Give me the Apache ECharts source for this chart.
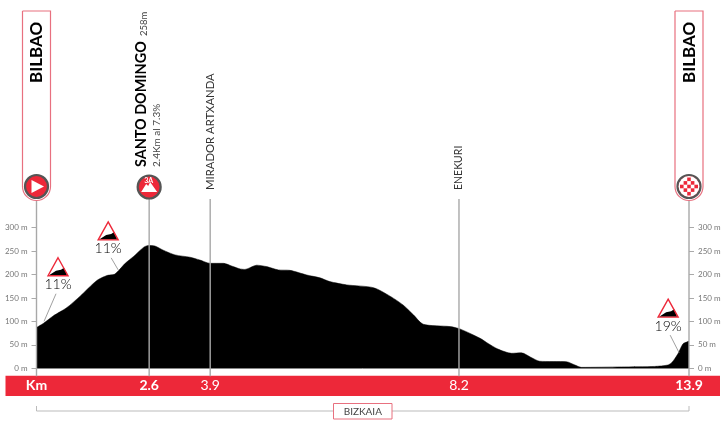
<!DOCTYPE html>
<html>
<head>
<meta charset="utf-8">
<title>Bilbao - Bilbao</title>
<script src="https://cdn.jsdelivr.net/npm/echarts@6/dist/echarts.min.js"></script>
<style>
  html, body { margin: 0; padding: 0; background: #fff; }
  #chart { width: 728px; height: 429px; }
</style>
</head>
<body>
<div id="chart"></div>
<script>
// profile
var distKm = [0, 0.15, 0.36, 0.64, 0.93, 1.28, 1.5, 1.67, 1.89, 2.06, 2.28, 2.38, 2.52, 2.7, 2.95, 3.27, 3.48, 3.7, 3.98, 4.19, 4.34,
  4.44, 4.69, 4.9, 5.15, 5.4, 5.76, 6.04, 6.25, 6.61, 7.18, 7.53, 7.81, 8.03, 8.24, 8.81, 9.02, 9.45,
  9.62, 9.83, 10.12, 10.33, 10.54, 10.72, 11.29, 11.47, 11.61, 12.46, 13.17, 13.45, 13.53, 13.6, 13.67, 13.77, 13.85, 13.9];
var elevation = [87, 96, 112, 129, 154, 187, 198, 201, 224, 238, 258, 262, 261, 252, 242, 237, 231, 224, 224, 217, 212,
  211, 220, 217, 210, 209, 199, 193, 185, 178, 172, 154, 135, 114, 94, 89, 84, 64,
  53, 41, 32, 33, 23, 15, 14, 7, 2, 3, 4, 7, 12, 21, 32, 52, 56, 58];

// points of interest: where they sit on the drawing and the km printed under them
var passPos = [0, 2.4, 3.7, 9.0, 13.9];
var passKmLabels = ['Km', '2.6', '3.9', '8.2', '13.9'];
var passNames = ['BILBAO', 'SANTO DOMINGO', 'MIRADOR ARTXANDA', 'ENEKURI', 'BILBAO'];

// gradient signs
var signKm = [0.16, 1.74, 13.69];
var signElev = [100, 210, 33];
var signText = ['11%', '11%', '19%'];
var signDx = [14, -10, -11];
var signDy = [-36.7, -21, -26.7];

var RED = '#ed2839';
var PINK = '#e8707f';
var GREY = '#a8a8a8';
var FONT = 'Lato';

function vtext(x, y, text, size, weight, color) {
  return { type: 'text', x: x, y: y, rotation: Math.PI / 2,
    style: { text: text, fontFamily: FONT, fontSize: size, fontWeight: weight, fill: color, align: 'left', verticalAlign: 'middle' } };
}

function ringCircle(x, y) {
  return { type: 'circle', shape: { cx: x, cy: y, r: 11.5 }, style: { fill: RED, stroke: '#555', lineWidth: 2.2 } };
}

function renderPass(params, api) {
  var i = params.dataIndex;
  var x = api.coord([api.value(0), 0])[0];
  var base = api.coord([api.value(0), 0])[1];
  var kids = [];
  var endY = base + 8;
  kids.push({ type: 'line', shape: { x1: x, y1: 199, x2: x, y2: endY }, style: { stroke: GREY, lineWidth: 1.4 } });

  if (i === 0 || i === 4) {
    kids.push({ type: 'rect', shape: { x: x - 14, y: 11, width: 28, height: 189.5, r: [0, 0, 14, 14] },
      style: { fill: '#fff', stroke: PINK, lineWidth: 1.2 } });
    kids.push(vtext(x + 0.5, 83, passNames[i], 17, 700, '#000'));
    kids.push(ringCircle(x, 186.5));
    if (i === 0) {
      kids.push({ type: 'polygon', shape: { points: [[x - 5, 180], [x + 7.5, 186.5], [x - 5, 193]] }, style: { fill: '#fff' } });
    } else {
      kids.push({ type: 'circle', shape: { cx: x, cy: 186.5, r: 10.4 }, style: { fill: '#fff' } });
      for (var r = -2; r <= 2; r++) {
        for (var c = -2; c <= 2; c++) {
          if ((r + c + 4) % 2 === 0 && r * r + c * c < 6) {
            kids.push({ type: 'rect', shape: { x: x + c * 3.6 - 1.8, y: 186.5 + r * 3.6 - 1.8, width: 3.6, height: 3.6 }, style: { fill: RED } });
          }
        }
      }
    }
  } else if (i === 1) {
    kids.push(vtext(x - 7.5, 167, passNames[i], 14.4, 700, '#000'));
    kids.push(vtext(x - 5, 36, '258m', 9.5, 400, '#444'));
    kids.push(vtext(x + 8, 167, '2.4Km al 7.3%', 10, 400, '#444'));
    kids.push(ringCircle(x, 187));
    kids.push({ type: 'polygon', shape: { points: [[x - 8, 192], [x - 3, 184], [x - 1, 186], [x + 1, 182], [x + 8, 192]] }, style: { fill: '#fff' } });
    kids.push({ type: 'text', x: x - 0.5, y: 181, style: { text: '3A', fontFamily: FONT, fontSize: 7, fontWeight: 700, fill: '#fff', align: 'center', verticalAlign: 'middle' } });
  } else {
    kids.push(vtext(x, 190, passNames[i], i === 2 ? 11.3 : 10.5, 400, '#333'));
  }
  return { type: 'group', children: kids };
}

function renderSign(params, api) {
  var i = params.dataIndex;
  var p = api.coord([api.value(0), api.value(1)]);
  var cx = p[0] + signDx[i];
  var cy = p[1] + signDy[i];   // cy = text centre under the triangle
  var topY = cy - 27;
  var botY = cy - 9;
  var lineFromY = cy + 9;
  return { type: 'group', children: [
    { type: 'line', shape: { x1: cx + (i === 1 ? 3 : (i === 0 ? -2 : 2)), y1: lineFromY, x2: p[0], y2: p[1] }, style: { stroke: '#888', lineWidth: 0.8 } },
    { type: 'polygon', shape: { points: [[cx - 9, botY - 0.5], [cx - 2, botY - 5], [cx + 3, botY - 6], [cx + 6, botY - 8], [cx + 9, botY - 0.5]] }, style: { fill: '#000' } },
    { type: 'polygon', shape: { points: [[cx, topY], [cx + 10, botY], [cx - 10, botY]] }, style: { fill: 'none', stroke: RED, lineWidth: 1.4 } },
    { type: 'text', x: cx, y: cy, style: { text: signText[i], fontFamily: FONT, fontSize: 14, fontWeight: 300, fill: '#000', align: 'center', verticalAlign: 'middle' } }
  ] };
}

var yLabel = { fontFamily: FONT, fontSize: 8, color: '#777', padding: [0, 0, 6, 0], formatter: '{value} m' };

var option = {
  animation: false,
  backgroundColor: '#fff',
  textStyle: { fontFamily: FONT },
  grid: { left: 36.5, right: 39, top: 227.7, bottom: 60.7, containLabel: false },
  xAxis: {
    type: 'value', min: 0, max: 13.9,
    splitLine: { show: false },
    axisTick: { show: false },
    axisLine: { lineStyle: { color: '#999', width: 1 } },
    axisLabel: {
      customValues: passPos,
      margin: 10, fontFamily: FONT, fontSize: 14, color: '#fff',
      hideOverlap: false,
      alignMinLabel: 'center', alignMaxLabel: 'center',
      formatter: function (v) {
        var lab = passKmLabels[passPos.indexOf(v)];
        return (lab === '3.9' || lab === '8.2') ? lab : '{b|' + lab + '}';
      },
      rich: { b: { fontFamily: FONT, fontSize: 14, fontWeight: 700, color: '#fff' } }
    }
  },
  yAxis: [
    { type: 'value', min: 0, max: 300, interval: 50, position: 'left',
      splitLine: { show: false }, axisLine: { show: false },
      axisTick: { length: 5, lineStyle: { color: '#aaa' } },
      axisLabel: Object.assign({ margin: 9 }, yLabel) },
    { type: 'value', min: 0, max: 300, interval: 50, position: 'right',
      splitLine: { show: false }, axisLine: { show: false },
      axisTick: { length: 5, lineStyle: { color: '#aaa' } },
      axisLabel: Object.assign({ margin: 9 }, yLabel) }
  ],
  graphic: [
    { type: 'rect', z: -1, shape: { x: 5.5, y: 375.7, width: 714.5, height: 20.3 }, style: { fill: RED } },
    { type: 'polyline', shape: { points: [[36.5, 406], [36.5, 411], [689, 411], [689, 406]] }, style: { stroke: '#bbb', fill: 'none', lineWidth: 1 } },
    { type: 'rect', shape: { x: 333.5, y: 403.5, width: 58.5, height: 15.5 }, style: { fill: '#fff', stroke: PINK, lineWidth: 1 } },
    { type: 'text', x: 362.8, y: 411.5, style: { text: 'BIZKAIA', fontFamily: FONT, fontSize: 10, fill: '#444', align: 'center', verticalAlign: 'middle' } }
  ],
  series: [
    { type: 'line', symbol: 'none', z: 2, smooth: 0.25,
      data: distKm.map(function (d, i) { return [d, elevation[i]]; }),
      lineStyle: { color: '#000', width: 0.5 }, areaStyle: { color: '#000', opacity: 1 } },
    { type: 'custom', z: 5, renderItem: renderPass, encode: { x: 0, y: 1 },
      data: passPos.map(function (k) { return [k, 0]; }) },
    { type: 'custom', z: 6, renderItem: renderSign, encode: { x: 0, y: 1 },
      data: signKm.map(function (k, i) { return [k, signElev[i]]; }) }
  ]
};

var chart = echarts.init(document.getElementById('chart'));
chart.setOption(option);
</script>
</body>
</html>
